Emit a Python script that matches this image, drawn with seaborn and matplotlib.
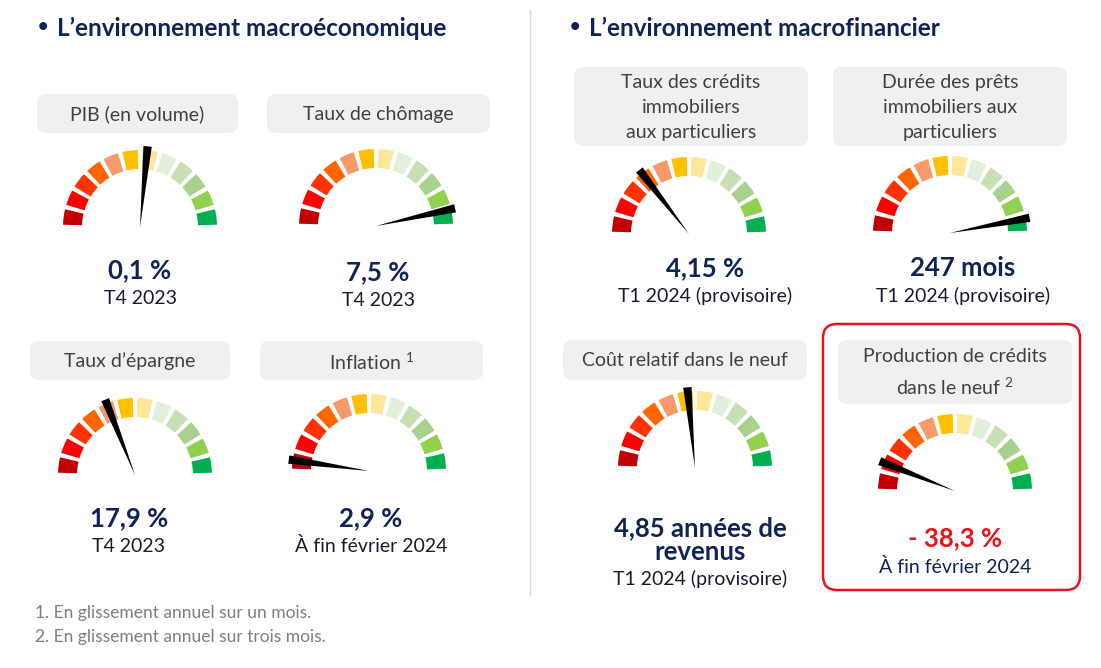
import numpy as np
import matplotlib
matplotlib.use("Agg")
import matplotlib.pyplot as plt
import seaborn as sns
from matplotlib.patches import Wedge, Polygon, FancyBboxPatch

# Gauge data
labels = ["PIB (en volume)", "Taux de chômage", "Taux d\u2019épargne", "Inflation $^{1}$",
          "Taux des crédits\nimmobiliers\naux particuliers", "Durée des prêts\nimmobiliers aux\nparticuliers",
          "Coût relatif dans le neuf", "Production de crédits\ndans le neuf $^{2}$"]
values = ["0,1 %", "7,5 %", "17,9 %", "2,9 %", "4,15 %", "247 mois", "4,85 années de\nrevenus", "- 38,3 %"]
periods = ["T4 2023", "T4 2023", "T4 2023", "À fin février 2024", "T1 2024 (provisoire)",
           "T1 2024 (provisoire)", "T1 2024 (provisoire)", "À fin février 2024"]
# needle position on the dial, 0 = far left (red), 1 = far right (green)
needle_pos = [0.53, 0.93, 0.38, 0.045, 0.29, 0.94, 0.47, 0.12]
titles = ["L\u2019environnement macroéconomique", "L\u2019environnement macrofinancier"]
notes = ["1. En glissement annuel sur un mois.", "2. En glissement annuel sur trois mois."]

seg_colors = ["#C00000", "#FF0000", "#FF3300", "#FF6600", "#F79A6B", "#FFC000",
              "#FFE699", "#E2EFDA", "#C6E0B4", "#A9D18E", "#92D050", "#00B050"]

# layout (pixel space)
gauge_xy = [(140, 227), (376, 226), (135, 475), (369, 471),
            (689, 234), (950, 233), (695, 468), (955, 491)]
box_rect = [(37, 94, 201, 39), (267, 94, 223, 39), (30, 341, 200, 39), (260, 341, 223, 39),
            (574, 67, 234, 79), (833, 67, 234, 79), (563, 340, 244, 40), (838, 340, 234, 64)]
value_xy = [(140, 270), (378, 272), (129, 518), (371, 518),
            (705, 268), (963, 268), (700, 540), (955, 538)]
period_xy = [(140, 299), (378, 300), (129, 546), (371, 546),
             (705, 296), (963, 296), (700, 579), (955, 567)]

NAVY = "#0F2357"
RED = "#E8141C"

sns.set_style("white")
plt.rcParams["font.family"] = ["Lato", "DejaVu Sans"]
plt.rcParams["mathtext.fontset"] = "custom"
plt.rcParams["mathtext.rm"] = "Lato"

fig = plt.figure(figsize=(11.01, 6.68), dpi=100)
ax = fig.add_axes([0, 0, 1, 1])
ax.set_xlim(0, 1101)
ax.set_ylim(668, 0)
ax.set_aspect("equal")
ax.axis("off")

palette = sns.color_palette(seg_colors)
R_OUT, R_IN = 77, 58
STEP = 180 / len(palette)
GAP = 1.7


def draw_gauge(cx, cy, pos):
    for i, col in enumerate(palette):
        a1 = 180 - (i + 1) * STEP + GAP
        a2 = 180 - i * STEP - GAP
        ax.add_patch(Wedge((cx, cy), R_OUT, -a2, -a1, width=R_OUT - R_IN, color=col, lw=0))
    ang = np.radians(180 - 180 * pos)
    length, half_w = 81, 4.2
    tip = np.array([cx + length * np.cos(ang), cy - length * np.sin(ang)])
    perp = np.array([np.sin(ang), np.cos(ang)]) * half_w
    ax.add_patch(Polygon([(cx, cy), tip + perp, tip - perp], closed=True, color="black", lw=0, zorder=5))


for k in range(len(labels)):
    x, y, w, h = box_rect[k]
    ax.add_patch(FancyBboxPatch((x, y), w, h, boxstyle="round,pad=0,rounding_size=9",
                                fc="#F0F0F0", ec="none"))
    ax.text(x + w / 2, y + h / 2 + 1, labels[k], ha="center", va="center", fontsize=14,
            color="#404040", linespacing=1.55)
    draw_gauge(*gauge_xy[k], needle_pos[k])
    vcol = RED if values[k].startswith("-") else NAVY
    ax.text(*value_xy[k], values[k], ha="center", va="center", fontsize=18.5, fontweight="bold",
            color=vcol, linespacing=1.0)
    ax.text(*period_xy[k], periods[k], ha="center", va="center", fontsize=14,
            color="#1A1A2E" if k < 7 else NAVY)

for tx, title in zip([43, 575], titles):
    ax.text(tx, 27, "\u2022", ha="center", va="center", fontsize=13, fontweight="bold", color=NAVY)
    ax.text(tx + 14, 28, title, ha="left", va="center", fontsize=17.5, fontweight="bold", color=NAVY)

ax.plot([530, 530], [10, 595], color="#D9D9D9", lw=1)
ax.add_patch(FancyBboxPatch((823, 324), 257, 266, boxstyle="round,pad=0,rounding_size=14",
                            fc="none", ec=RED, lw=1.8))

ax.text(35, 613, notes[0], ha="left", va="center", fontsize=12.5, color="#7F7F7F")
ax.text(35, 637, notes[1], ha="left", va="center", fontsize=12.5, color="#7F7F7F")

fig.savefig("out.png", dpi=100)
